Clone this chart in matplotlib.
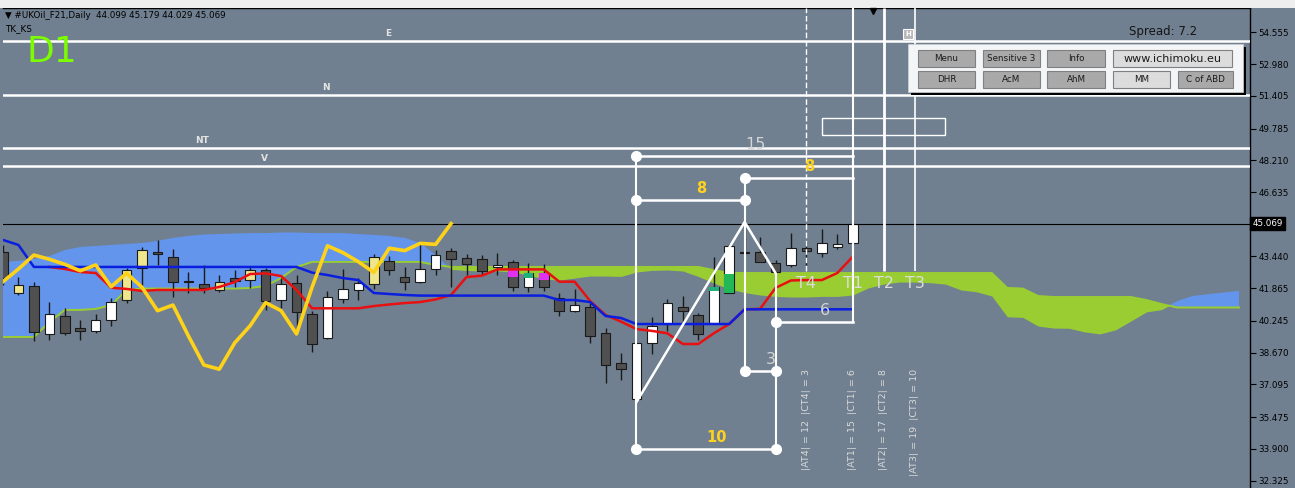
import matplotlib
matplotlib.use('Agg')
import matplotlib.pyplot as plt
from matplotlib.patches import Rectangle
import numpy as np

# UKOil_F21 daily bars, index 0 = first visible bar
opens = [43.68, 41.61, 41.99, 39.61, 40.49, 39.88, 39.75, 40.28, 41.27, 42.85,
         43.65, 43.40, 42.24, 42.09, 41.78, 42.36, 42.27, 42.77, 41.28, 42.11,
         40.59, 39.38, 41.33, 41.78, 42.06, 43.23, 42.41, 42.19, 42.82, 43.73,
         43.35, 43.30, 42.93, 43.18, 41.94, 42.61, 41.37, 40.75, 40.95, 39.66,
         38.17, 36.37, 39.16, 40.09, 40.92, 40.52, 40.13, 41.64, 43.65, 43.65,
         43.10, 43.02, 43.85, 43.60, 43.89, 44.099]
highs = [44.01, 42.41, 42.19, 41.17, 40.90, 40.28, 40.60, 41.37, 42.88, 43.92,
         44.26, 43.81, 42.66, 43.02, 42.52, 42.77, 42.98, 42.85, 42.39, 42.52,
         40.74, 41.73, 42.80, 42.39, 43.55, 43.48, 42.90, 44.11, 43.76, 43.85,
         43.56, 43.51, 43.60, 43.27, 43.10, 43.07, 41.64, 41.81, 41.12, 39.91,
         38.67, 39.20, 40.42, 41.32, 41.48, 40.62, 43.43, 44.06, 45.15, 44.42,
         43.27, 44.62, 44.17, 44.79, 44.54, 45.179]
lows = [42.03, 41.53, 39.25, 39.30, 39.55, 39.30, 39.63, 39.99, 41.12, 41.99,
        43.02, 41.43, 41.61, 41.61, 41.66, 41.94, 41.89, 40.79, 40.87, 39.96,
        38.72, 39.35, 41.12, 41.28, 41.83, 42.52, 41.78, 42.11, 42.52, 41.94,
        42.52, 42.52, 42.52, 41.74, 41.69, 41.74, 40.49, 40.70, 39.14, 37.18,
        37.32, 36.22, 38.61, 39.76, 40.16, 39.30, 40.10, 41.61, 43.56, 43.17,
        42.62, 42.93, 43.02, 43.40, 43.80, 44.029]
closes = [42.36, 42.03, 39.68, 40.57, 39.65, 39.75, 40.28, 41.18, 42.77, 43.76,
          43.55, 42.16, 42.19, 41.89, 42.19, 42.22, 42.77, 41.23, 42.06, 40.70,
          39.09, 41.42, 41.81, 42.11, 43.40, 42.77, 42.19, 42.82, 43.51, 43.30,
          43.05, 42.73, 43.02, 41.94, 42.61, 41.91, 40.75, 41.03, 39.50, 38.06,
          37.85, 39.16, 40.01, 41.15, 40.75, 39.60, 41.91, 43.97, 43.63, 43.18,
          42.65, 43.85, 43.73, 44.09, 44.04, 45.069]
khaki_bars = [1, 8, 9, 14, 16, 24]

nan = np.nan
kijun = [44.26, 44.01] + [42.92] * 18 + [42.64, 42.52, 42.37, 42.27, 41.63, 41.58, 41.53] \
        + [41.50] * 9 + [41.28, 41.28, 41.18, 40.49, 40.39] + [40.09] * 7 + [40.82] * 8
tenkan = [nan, nan, nan, 42.92, 42.82, 42.67, 42.62, 41.89, 41.83, 41.73,
          41.78, 41.78, 41.78, 41.78, 41.93, 42.17, 42.57, 42.60, 42.47, 41.78,
          40.87, 40.87, 40.87, 40.87, 40.98, 41.06, 41.13, 41.18, 41.31, 41.53,
          42.42, 42.49, 42.80, 42.80, 42.80, 42.80, 42.19, 42.19, 41.23, 40.54,
          40.21, 39.84, 39.75, 39.63, 39.10, 39.10, 39.63, 40.09, 40.82, 40.84,
          41.88, 42.25, 42.27, 42.27, 42.62, 43.43]

senkou_a = [39.45, 39.45, 39.45, 40.19, 40.79, 40.79, 40.84, 41.03, 41.78] + [41.85] * 7 \
           + [41.88, 41.98, 42.37, 42.92] + [43.17] * 8 + [43.02] + [42.92] * 17 + [42.77] \
           + [42.62] * 18 + [41.88, 41.85, 41.48] + [41.43] * 6 + [41.28, 41.08] + [40.91] * 5
senkou_b = [43.17, 43.22, 43.32, 43.46, 43.76, 43.91, 43.96, 44.01, 44.06, 44.11,
            44.21, 44.36, 44.46, 44.53, 44.55, 44.58, 44.60, 44.60, 44.63, 44.63,
            44.60, 44.60, 44.60, 44.55, 44.51, 44.46, 44.36, 44.11, 43.51, 42.80,
            42.75, 42.72, 42.72, 42.67, 42.52, 42.32, 42.27, 42.37, 42.47, 42.47,
            42.45, 42.67, 42.75, 42.77, 42.72, 42.45, 42.12, 41.83, 41.65, 41.53,
            41.46, 41.43, 41.43, 41.46, 41.46, 41.53, 41.88, 42.07, 42.17, 42.17,
            42.14, 42.07, 41.78, 41.69, 41.48, 40.45, 40.42, 39.99, 39.89, 39.88,
            39.70, 39.60, 39.80, 40.24, 40.69, 40.81, 41.23, 41.48, 41.57, 41.65,
            41.74]

# coloured marks on some candles
hl_bar = [33, 34, 35, 46, 47]
hl_lo = [42.44, 42.36, 42.27, 41.74, 41.64]
hl_hi = [42.77, 42.61, 42.61, 41.91, 42.57]
hl_col = ['#e030f0', '#20b07a', '#e030f0', '#20b07a', '#22b858']

# wave target levels
wave_names = ['E', 'N', 'NT', 'V']
wave_levels = [54.14, 51.46, 48.83, 47.94]
wave_label_x = [24.9, 20.9, 12.9, 16.9]

# ABC points and time targets
bar_a, bar_b, bar_c = 41, 48, 50
t_bars = [52, 55, 57, 59]
t_names = ['T4', 'T1', 'T2', 'T3']

# time spans (start bar, end bar, price level)
span_start = [41, 41, 48, 41, 48, 50]
span_end = [55, 48, 55, 50, 50, 55]
span_level = [48.42, 46.24, 47.33, 33.90, 37.76, 40.19]
span_color = ['#d4d4d4', '#ffd21f', '#ffd21f', '#ffd21f', '#d4d4d4', '#d4d4d4']
span_bold = [False, True, True, True, False, False]

box_x = [53, 61]
box_y = [49.46, 50.31]

yticks = [54.555, 52.980, 51.405, 49.785, 48.210, 46.635, 43.440, 41.865,
          40.245, 38.670, 37.095, 35.475, 33.900, 32.325]

bg = '#708090'
fig = plt.figure(figsize=(12.95, 4.88), dpi=100, facecolor=bg)
ax = fig.add_axes([3 / 1295, 0, 1247 / 1295, 480 / 488])
ax.set_facecolor(bg)
ax.set_xlim(0, 80.71)
ax.set_ylim(31.96, 55.76)

# cloud
xs = np.arange(len(senkou_a))
sa = np.array(senkou_a)
sb = np.array(senkou_b)
ax.fill_between(xs, sa, sb, where=sb >= sa, interpolate=True, color='#6495ED', lw=0, zorder=1)
ax.fill_between(xs, sa, sb, where=sa > sb, interpolate=True, color='#9ACD32', lw=0, zorder=1)
ax.plot(xs, sa, color='#9ACD32', lw=1.4, zorder=2)

# candles
x = np.arange(len(opens))
o, h, l, c = map(np.array, (opens, highs, lows, closes))
body_col = []
for i in x:
    if i in khaki_bars:
        body_col.append('#eee68c')
    elif c[i] >= o[i]:
        body_col.append('white')
    else:
        body_col.append('#505050')
ax.vlines(x, l, h, color='#1a1a1a', lw=1, zorder=3)
ax.bar(x, np.maximum(np.abs(c - o), 0.04), 0.62, bottom=np.minimum(o, c),
       color=body_col, edgecolor='#1a1a1a', lw=0.8, zorder=4)
for b, lo, hi, col in zip(hl_bar, hl_lo, hl_hi, hl_col):
    ax.bar(b, hi - lo, 0.62, bottom=lo, color=col, lw=0, zorder=4.5)

# tenkan / kijun / chikou
ax.plot(x, tenkan, color='#e81010', lw=1.8, zorder=5)
ax.plot(x, kijun, color='#0a1ee0', lw=1.8, zorder=5)
ax.plot(x[:len(x) - 26], c[26:], color='#ffd21a', lw=2.6, zorder=6)

# current price line
ax.axhline(c[-1], color='black', lw=0.8, zorder=5)

# wave levels
for name, lev, lx in zip(wave_names, wave_levels, wave_label_x):
    ax.axhline(lev, color='white', lw=1.8, zorder=6)
    ax.annotate(name, (lx, lev), xytext=(0, 2), textcoords='offset points',
                ha='center', va='bottom', color='#e4e4e4', fontsize=6.5,
                fontweight='bold', zorder=7)

# ABC zigzag
ax.plot([bar_a, bar_b, bar_c], [l[bar_a], h[bar_b], l[bar_c]], color='white', lw=1.8, zorder=7)

# time spans
for s, e, lev, col, bold in zip(span_start, span_end, span_level, span_color, span_bold):
    ax.plot([s, e], [lev, lev], color='white', lw=1.8, zorder=7)
    ax.plot(s, lev, 'o', color='white', ms=7, zorder=8)
    if e != t_bars[1]:
        ax.plot(e, lev, 'o', color='white', ms=7, zorder=8)
    ax.annotate(str(e - s + 1), ((s + e) / 2 + 0.7, lev), xytext=(0, 3),
                textcoords='offset points', ha='center', va='bottom', color=col,
                fontsize=10.5 if bold else 11.5, fontweight='bold' if bold else 'normal',
                zorder=8)
ax.vlines(bar_a, span_level[3], span_level[0], color='white', lw=1.5, zorder=7)
ax.vlines(bar_b, span_level[4], span_level[2], color='white', lw=1.5, zorder=7)
ax.vlines(bar_c, span_level[3], l[bar_c], color='white', lw=1.5, zorder=7)
ax.vlines(t_bars[1], span_level[5], span_level[0], color='white', lw=1.5, zorder=7)

# time targets
t_style = [dict(ls=(0, (4, 2)), lw=1), dict(ls='-', lw=1.5), dict(ls='-', lw=2), dict(ls='-', lw=1.2)]
for tb, name, st in zip(t_bars, t_names, t_style):
    ax.vlines(tb, 42.72, 55.76, color='white', zorder=7, **st)
    ax.text(tb, 42.12, name, ha='center', va='center', color='#dcdcdc', fontsize=11.5, zorder=8)
    ax.text(tb, 37.86, f'|A{name}| = {tb - bar_a + 1}  |C{name}| = {tb - bar_c + 1}',
            rotation=90, ha='center', va='top', color='#dadada', fontsize=6.8, zorder=8)

ax.add_patch(Rectangle((box_x[0], box_y[0]), box_x[1] - box_x[0], box_y[1] - box_y[0],
                       fill=False, edgecolor='white', lw=1, zorder=7))

# right price scale
ax.yaxis.tick_right()
ax.set_yticks(yticks)
ax.set_yticklabels([f'{v:.3f}' for v in yticks])
ax.tick_params(axis='y', direction='out', length=4, width=0.8, colors='black',
               labelsize=6.3, pad=2)
ax.set_xticks([])
for side in ['left', 'bottom']:
    ax.spines[side].set_visible(False)
for side in ['top', 'right']:
    ax.spines[side].set_color('black')
    ax.spines[side].set_linewidth(1)
ax.text(1.002, c[-1], f'{c[-1]:.3f}', transform=ax.get_yaxis_transform(), ha='left',
        va='center', color='white', fontsize=6.3,
        bbox=dict(boxstyle='square,pad=0.25', fc='black', ec='black'))

# terminal overlay (pixel coordinates)
ui = fig.add_axes([0, 0, 1, 1], zorder=10)
ui.set_xlim(0, 1295)
ui.set_ylim(488, 0)
ui.axis('off')
ui.patch.set_alpha(0)
ui.add_patch(Rectangle((0, 0), 1295, 7.5, color='#eeeeee', lw=0))
ui.plot(873, 11, 'v', color='black', ms=5)
ui.text(5, 16, f'\u25bc #UKOil_F21,Daily  {o[-1]:.3f} {h[-1]:.3f} {l[-1]:.3f} {c[-1]:.3f}',
        fontsize=6.3, va='center', color='black')
ui.text(5, 29, 'TK_KS', fontsize=6.3, va='center', color='black')
ui.text(26, 52, 'D1', fontsize=26, va='center', color='#7CFC00')
ui.text(1163, 32, 'Spread: 7.2', fontsize=8.5, ha='center', va='center', color='#151515')
ui.add_patch(Rectangle((903, 29), 10, 10, fc='#b8b8b8', ec='white', lw=0.8))
ui.text(908, 34.5, 'H', fontsize=5, ha='center', va='center', color='white', fontweight='bold')

ui.add_patch(Rectangle((911, 47), 335, 48, fc='black', lw=0))
ui.add_patch(Rectangle((908, 44), 335, 48, fc='#f3f5f7', ec='#d0d0d0', lw=0.5))
buttons = [(918, 975, 50, 'Menu', '#a9a9a9'), (983, 1040, 50, 'Sensitive 3', '#a9a9a9'),
           (1047, 1105, 50, 'Info', '#a9a9a9'), (1113, 1232, 50, 'www.ichimoku.eu', '#dcdcdc'),
           (918, 975, 71, 'DHR', '#a9a9a9'), (983, 1040, 71, 'AcM', '#a9a9a9'),
           (1047, 1105, 71, 'AhM', '#a9a9a9'), (1113, 1170, 71, 'MM', '#dcdcdc'),
           (1178, 1233, 71, 'C of ABD', '#a9a9a9')]
for x0, x1, y0, label, col in buttons:
    ui.add_patch(Rectangle((x0, y0), x1 - x0, 17, fc=col, ec='#808080', lw=0.8))
    ui.text((x0 + x1) / 2, y0 + 8.5, label, ha='center', va='center', color='#1a1a1a',
            fontsize=8 if label.startswith('www') else 6.3)

fig.savefig('out.png', dpi=100, facecolor=bg)
